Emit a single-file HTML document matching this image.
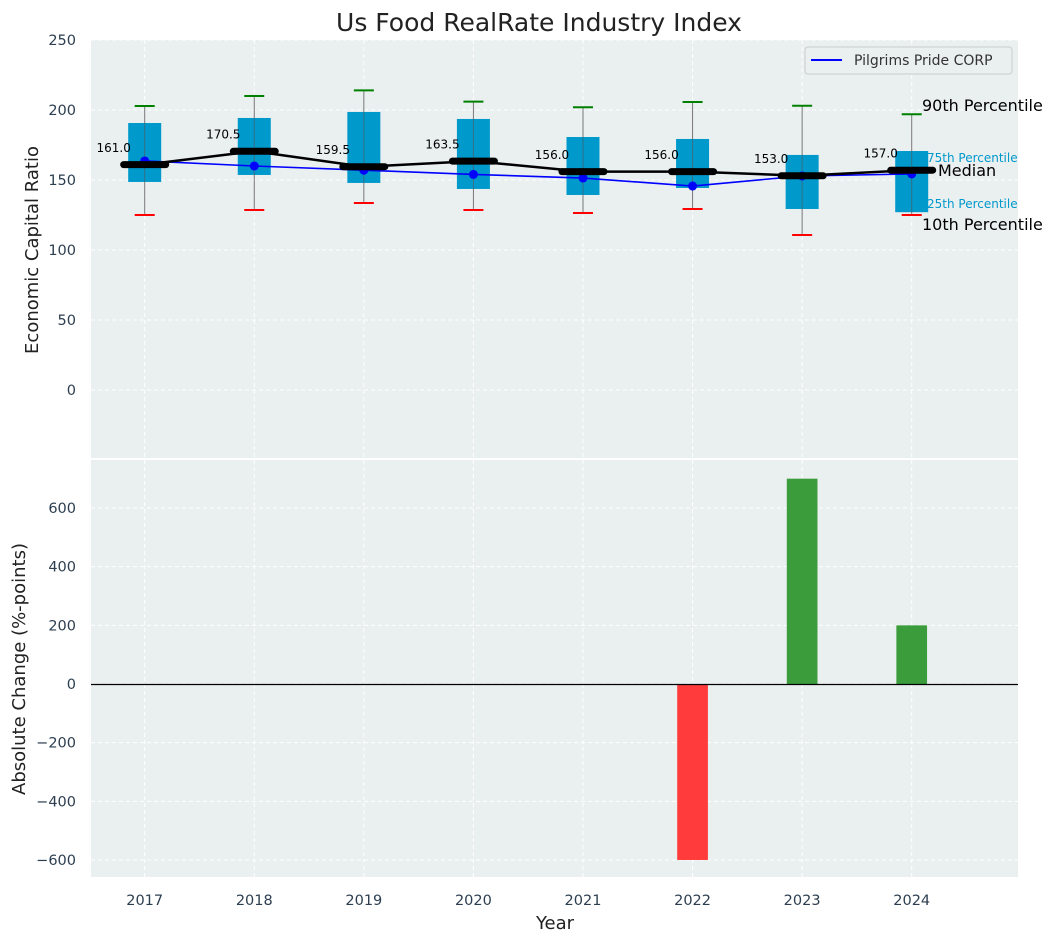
<!DOCTYPE html>
<html><head><meta charset="utf-8">
<style>
body{margin:0;background:#fff;font-family:"Liberation Sans","DejaVu Sans",sans-serif;}
svg{display:block}
text{font-family:"DejaVu Sans","Liberation Sans",sans-serif;}
</style></head>
<body>
<svg id="chart" width="1057" height="942" xmlns="http://www.w3.org/2000/svg"></svg>
<script>
const years = [2017,2018,2019,2020,2021,2022,2023,2024];
const p10 = [125,128.6,133.6,128.6,126.4,129.3,110.7,125];
const p25 = [148.6,153.6,147.9,143.6,139.3,144.3,129.3,127];
const medians = [161.0,170.5,159.5,163.5,156.0,156.0,153.0,157.0];
const p75 = [190.7,194.3,198.6,193.6,180.7,179.3,167.9,170.7];
const p90 = [202.9,210,214,206,202,205.7,203,197];
const company = [163.6,160,157,154,151.4,145.7,152.9,154.3];
const changes = [null,null,null,null,null,-600,700,200];
const topTicks = [0,50,100,150,200,250];
const botTicks = [-600,-400,-200,0,200,400,600];

const svg = document.getElementById('chart');
const NS='http://www.w3.org/2000/svg';
function el(tag, attrs, parent){const e=document.createElementNS(NS,tag);for(const k in attrs)e.setAttribute(k,attrs[k]);(parent||svg).appendChild(e);return e;}
const L=91,R=1018;
const X=v=>L+(v-2016.51)*(R-L)/(2024.97-2016.51);
const T0=40,T1=458, Yt=v=>390-v*1.4;
const B0=460,B1=877, Yb=v=>684-v*0.2933;

let bg=el('rect',{x:L,y:T0,width:R-L,height:T1-T0,fill:'#eaeff0'});

let bg2=el('rect',{x:L,y:B0,width:R-L,height:B1-B0,fill:'#eaeff0'});


years.forEach(y=>{
  el('line',{x1:X(y),x2:X(y),y1:T0,y2:T1,stroke:'#fff','stroke-dasharray':'4,3','stroke-width':1});
  el('line',{x1:X(y),x2:X(y),y1:B0,y2:B1,stroke:'#fff','stroke-dasharray':'4,3','stroke-width':1});
  const t=el('text',{x:X(y),y:905,'text-anchor':'middle','font-size':14.5,fill:'#2c3e50'});t.textContent=y;
  
});
topTicks.forEach(v=>{
  el('line',{x1:L,x2:R,y1:Yt(v),y2:Yt(v),stroke:'#fff','stroke-dasharray':'4,3'});
  const t=el('text',{x:76,y:Yt(v)+5,'text-anchor':'end','font-size':14.5,fill:'#2c3e50'});t.textContent=v;
  
});
botTicks.forEach(v=>{
  el('line',{x1:L,x2:R,y1:Yb(v),y2:Yb(v),stroke:'#fff','stroke-dasharray':'4,3'});
  const t=el('text',{x:76,y:Yb(v)+5,'text-anchor':'end','font-size':14.5,fill:'#2c3e50'});t.textContent=(v<0?'\u2212'+(-v):v);
  
});

years.forEach((y,i)=>{
  const cx=X(y);
  const w=el('line',{x1:cx,x2:cx,y1:Yt(p10[i]),y2:Yt(p90[i]),stroke:'#777','stroke-width':1});
  
  const b=el('rect',{x:cx-16.5,y:Yt(p75[i]),width:33,height:Yt(p25[i])-Yt(p75[i]),fill:'#0099cc'});
  
  el('line',{x1:cx,x2:cx,y1:Yt(p75[i]),y2:Yt(p25[i]),stroke:'#555','stroke-width':1,opacity:0.6});
  const c1=el('line',{x1:cx-10,x2:cx+10,y1:Yt(p90[i]),y2:Yt(p90[i]),stroke:'green','stroke-width':2});
  
  const c2=el('line',{x1:cx-10,x2:cx+10,y1:Yt(p10[i]),y2:Yt(p10[i]),stroke:'red','stroke-width':2});
  
});
const cl=el('polyline',{points:years.map((y,i)=>X(y)+','+Yt(company[i])).join(' '),fill:'none',stroke:'blue','stroke-width':1.6});

years.forEach((y,i)=>{const d=el('circle',{cx:X(y),cy:Yt(company[i]),r:4.5,fill:'blue'});
  });
const ml=el('polyline',{points:years.map((y,i)=>X(y)+','+Yt(medians[i])).join(' '),fill:'none',stroke:'#000','stroke-width':2.5});

years.forEach((y,i)=>{
  const m=el('line',{x1:X(y)-21,x2:X(y)+21,y1:Yt(medians[i]),y2:Yt(medians[i]),stroke:'#000','stroke-width':7,'stroke-linecap':'round'});
  
  const t=el('text',{x:X(y)-31,y:Yt(medians[i]+12)+4,'text-anchor':'middle','font-size':12,fill:'#000'});t.textContent=medians[i].toFixed(1);
  
});
[['90th Percentile',922,111,16,'#000'],['75th Percentile',927,162,12,'#0099cc'],['Median',938,176,16,'#000'],['25th Percentile',927,208,12,'#0099cc'],['10th Percentile',922,230,16,'#000']].forEach(a=>{
  const t=el('text',{x:a[1],y:a[2],'font-size':a[3],fill:a[4]});t.textContent=a[0];
  
});
const lg=el('g',{});
el('rect',{x:805,y:47,width:207,height:27,rx:3,fill:'#eaeff0',stroke:'#ccc'},lg);
el('line',{x1:811,x2:842,y1:60,y2:60,stroke:'blue','stroke-width':2},lg);
const lt=el('text',{x:854,y:65,'font-size':14,fill:'#333'},lg);lt.textContent='Pilgrims Pride CORP';

const bw=0.28;
years.forEach((y,i)=>{
  const v=changes[i]; if(v===null)return;
  const r=el('rect',{x:X(y)-bw/2*(X(1)-X(0)),y:Math.min(Yb(0),Yb(v)),width:bw*(X(1)-X(0)),height:Math.abs(Yb(v)-Yb(0)),fill:v<0?'#ff3b3b':'#3a9c3a'});
  
});
el('line',{x1:L,x2:R,y1:Math.round(Yb(0))+0.5,y2:Math.round(Yb(0))+0.5,stroke:'#000','stroke-width':1.2});

let t=el('text',{x:539,y:31,'text-anchor':'middle','font-size':25,fill:'#222'});t.textContent='Us Food RealRate Industry Index';

t=el('text',{x:555,y:929,'text-anchor':'middle','font-size':18,fill:'#222'});t.textContent='Year';

t=el('text',{x:0,y:0,'text-anchor':'middle','font-size':18,fill:'#222',transform:'translate(38,250) rotate(-90)'});t.textContent='Economic Capital Ratio';

t=el('text',{x:0,y:0,'text-anchor':'middle','font-size':18,fill:'#222',transform:'translate(25,669) rotate(-90)'});t.textContent='Absolute Change (%-points)';

</script>
</body></html>
